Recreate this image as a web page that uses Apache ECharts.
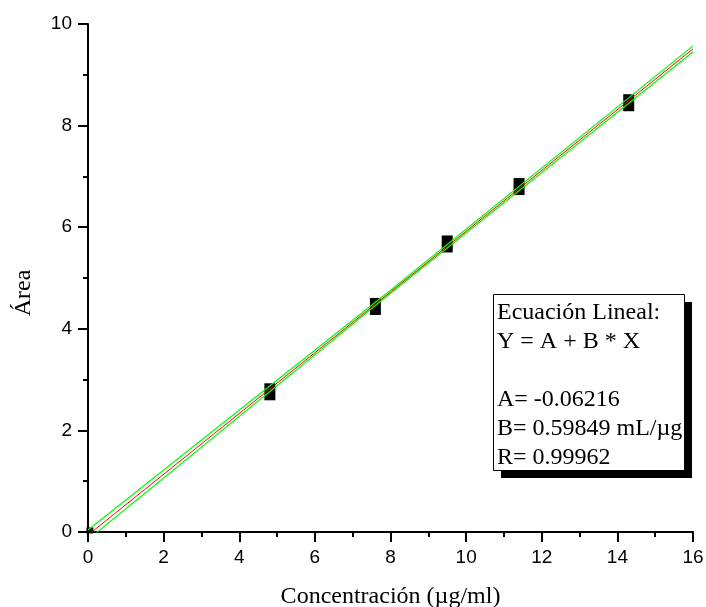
<!DOCTYPE html>
<html>
<head>
<meta charset="utf-8">
<script src="https://cdn.jsdelivr.net/npm/echarts@6/dist/echarts.min.js"></script>
<style>
  html, body { margin: 0; padding: 0; background: #fff; }
  #chart { width: 706px; height: 607px; }
</style>
</head>
<body>
<div id="chart"></div>
<script>
  // datos
  const concentracion = [0.05, 4.81, 7.6, 9.5, 11.4, 14.3];
  const area = [0.03, 2.76, 4.44, 5.67, 6.8, 8.45];

  // recta de ajuste y bandas de confianza (extremos leidos)
  const ajusteX = [0, 16];
  const ajusteY = [-0.06, 9.51];
  const bandaX = [0, 8, 16];
  const bandaSup = [0.04, 4.76, 9.57];
  const bandaInf = [-0.15, 4.7, 9.45];

  const cuadro = ["Ecuación Lineal:", "Y = A + B * X", "", "A= -0.06216", "B= 0.59849 mL/µg", "R= 0.99962"];

  const pares = (xs, ys) => xs.map((x, i) => [x, ys[i]]);

  let myChart = echarts.init(document.getElementById("chart"));

  const ejeComun = {
    type: "value",
    splitLine: { show: false },
    axisLine: { show: true, lineStyle: { color: "#000", width: 2 } },
    axisTick: { show: true, length: 10, lineStyle: { color: "#000", width: 2 } },
    minorTick: { show: true, splitNumber: 2, length: 5, lineStyle: { color: "#000", width: 2 } },
    axisLabel: { color: "#000", fontFamily: "Liberation Sans", fontSize: 19 },
  };

  let option = {
    animation: false,
    grid: { left: 88, right: 13, top: 24, bottom: 75, outerBoundsMode: "none" },
    xAxis: Object.assign({}, ejeComun, {
      min: 0,
      max: 16,
      interval: 2,
      axisLabel: Object.assign({}, ejeComun.axisLabel, { margin: 16 }),
      name: "Concentración (µg/ml)",
      nameLocation: "middle",
      nameGap: 53,
      nameTextStyle: { color: "#000", fontFamily: "Liberation Serif", fontSize: 24 },
    }),
    yAxis: Object.assign({}, ejeComun, {
      min: 0,
      max: 10,
      interval: 2,
      axisLabel: Object.assign({}, ejeComun.axisLabel, { margin: 16 }),
      name: "Área",
      nameLocation: "middle",
      nameGap: 52,
      nameTextStyle: { color: "#000", fontFamily: "Liberation Serif", fontSize: 24, padding: [0, 30, 0, 0] },
    }),
    series: [
      {
        type: "scatter",
        z: 1,
        data: pares(concentracion, area).map((p, i) => ({
          value: p,
          symbolSize: i === 0 ? [7, 6] : [11, 17],
        })),
        symbol: "rect",
        itemStyle: { color: "#000", opacity: 1 },
      },
      {
        type: "line",
        z: 3,
        data: pares(ajusteX, ajusteY),
        showSymbol: false,
        clip: true,
        lineStyle: { color: "#ff0000", width: 1 },
      },
      {
        type: "line",
        z: 2,
        data: pares(bandaX, bandaSup),
        showSymbol: false,
        clip: true,
        lineStyle: { color: "#00ff00", width: 1.2 },
      },
      {
        type: "line",
        z: 2,
        data: pares(bandaX, bandaInf),
        showSymbol: false,
        clip: true,
        lineStyle: { color: "#00ff00", width: 1.2 },
      },
    ],
    graphic: [
      { type: "rect", left: 501, top: 302, shape: { width: 191, height: 176 }, style: { fill: "#000" }, z: 10 },
      { type: "rect", left: 493, top: 294, shape: { width: 191, height: 176 }, style: { fill: "#fff", stroke: "#000", lineWidth: 1 }, z: 11 },
      {
        type: "text",
        left: 497,
        top: 298,
        z: 12,
        style: {
          text: cuadro.join("\n"),
          fill: "#000",
          font: "24px 'Liberation Serif'",
          lineHeight: 29,
        },
      },
    ],
  };
  myChart.setOption(option);
</script>
</body>
</html>
